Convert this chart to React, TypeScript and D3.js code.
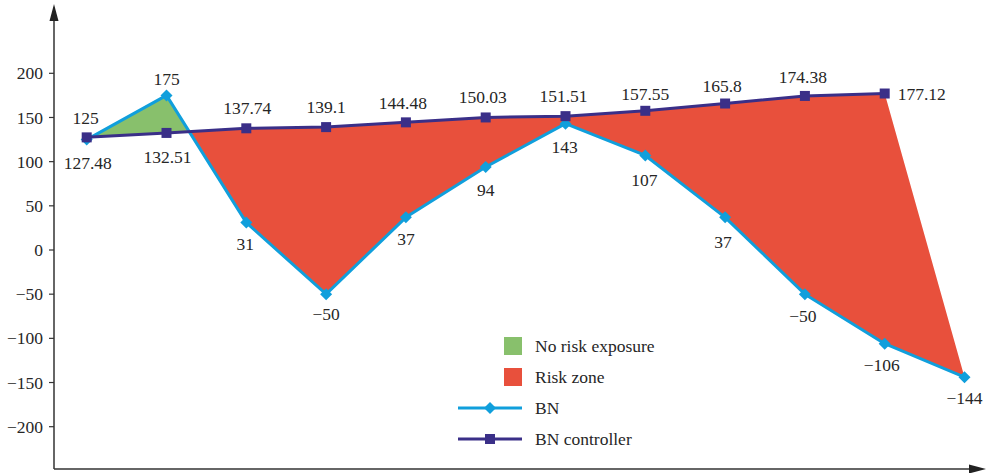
import React from "react";
import * as d3 from "d3";

const bnValues = [125, 175, 31, -50, 37, 94, 143, 107, 37, -50, -106, -144];
const controllerValues = [127.48, 132.51, 137.74, 139.1, 144.48, 150.03, 151.51, 157.55, 165.8, 174.38, 177.12];
const bnLabels = ["125", "175", "31", "−50", "37", "94", "143", "107", "37", "−50", "−106", "−144"];
const controllerLabels = ["127.48", "132.51", "137.74", "139.1", "144.48", "150.03", "151.51", "157.55", "165.8", "174.38", "177.12"];
const yTicks = [200, 150, 100, 50, 0, -50, -100, -150, -200];
const yTickLabels = ["200", "150", "100", "50", "0", "−50", "−100", "−150", "−200"];
const legendItems = ["No risk exposure", "Risk zone", "BN", "BN controller"];

// label placement (layout only)
const bnLabelPlace: [number, number][] = [
  [-1, -22], [0, -17], [-1, 21], [0, 20], [0, 22], [0, 23], [-1, 23], [-1, 24], [-2, 25], [-2, 22], [-3, 21], [0, 21],
];
const ctrlLabelPlace: [number, number, string][] = [
  [1, 26, "middle"], [1, 24, "middle"], [1, -20, "middle"], [0, -20, "middle"], [-3, -19, "middle"],
  [-3, -21, "middle"], [-2, -20, "middle"], [0, -17, "middle"], [-3, -18, "middle"], [-2, -19, "middle"], [13, 0, "start"],
];

const GREEN = "#88C06C";
const RED = "#E8503C";
const BLUE = "#109FDC";
const NAVY = "#3A2F88";
const TEXT = "#262626";
const FONT = "Liberation Serif";
const NUM_SIZE = 17.5;
const LEG_SIZE = 17.5;

export default function App() {
  const W = 987, H = 473;
  const x = d3.scaleLinear().domain([0, 11]).range([86.7, 964.5]);
  const y = d3.scaleLinear().domain([0, 200]).range([250, 73.3]);

  const bnPts: [number, number][] = bnValues.map((v, i) => [x(i), y(v)]);
  const ctPts: [number, number][] = controllerValues.map((v, i) => [x(i), y(v)]);

  // crossing between index 1 and 2
  const d1 = bnValues[1] - controllerValues[1];
  const d2 = bnValues[2] - controllerValues[2];
  const t = d1 / (d1 - d2);
  const cx = 1 + t;
  const cv = bnValues[1] + t * (bnValues[2] - bnValues[1]);
  const cross: [number, number] = [x(cx), y(cv)];

  const poly = d3.line<[number, number]>();
  const greenPoly = poly([bnPts[0], bnPts[1], cross, ctPts[1], ctPts[0]]) + "Z";
  const redPts: [number, number][] = [cross, ...ctPts.slice(2), ...bnPts.slice(2).reverse()];
  const redPoly = poly(redPts) + "Z";

  const bnLine = poly(bnPts) || "";
  const ctLine = poly(ctPts) || "";

  const axisX = 54;
  const axisY = 469;

  const diamond = (px: number, py: number, r: number) =>
    `M${px},${py - r}L${px + r},${py}L${px},${py + r}L${px - r},${py}Z`;

  const legendRowY = [346, 377, 408, 439];
  const legX = 504;

  return (
    <svg width={W} height={H} style={{ position: "absolute", left: 0, top: 0 }}>
      <style>{`.lbl { font-family: "Liberation Serif", serif !important; }`}</style>
      <rect width={W} height={H} fill="#fff" />
      {/* areas */}
      <path d={redPoly} fill={RED} />
      <path d={greenPoly} fill={GREEN} />
      {/* lines */}
      <path d={bnLine} fill="none" stroke={BLUE} strokeWidth={3} strokeLinejoin="round" />
      <path d={ctLine} fill="none" stroke={NAVY} strokeWidth={3} strokeLinejoin="round" />
      {bnPts.map(([px, py], i) => (
        <path key={"bd" + i} d={diamond(px, py, 6)} fill={BLUE} />
      ))}
      {ctPts.map(([px, py], i) => (
        <rect key={"cs" + i} x={px - 5} y={py - 5} width={10} height={10} fill={NAVY} />
      ))}
      {/* axes */}
      <line x1={axisX} y1={20} x2={axisX} y2={axisY} stroke="#333" strokeWidth={1.5} />
      <path d={`M${axisX},4L${axisX + 4.5},21L${axisX - 4.5},21Z`} fill="#222" />
      <line x1={axisX} y1={axisY} x2={970} y2={axisY} stroke="#333" strokeWidth={1.5} />
      <path d={`M986,${axisY}L969,${axisY - 4.5}L969,${axisY + 4.5}Z`} fill="#222" />
      {yTicks.map((v, i) => (
        <g key={"t" + i}>
          <line x1={axisX - 5} x2={axisX} y1={y(v)} y2={y(v)} stroke="#333" strokeWidth={1.2} />
          <text className="lbl" x={43} y={y(v)} dy="0.35em" textAnchor="end" fontSize={NUM_SIZE} fill={TEXT}
            fontFamily={FONT} style={{ fontFamily: FONT }}>
            {yTickLabels[i]}
          </text>
        </g>
      ))}
      {/* labels */}
      {bnPts.map(([px, py], i) => (
        <text className="lbl" key={"bl" + i} x={px + bnLabelPlace[i][0]} y={py + bnLabelPlace[i][1]} dy="0.35em"
          textAnchor="middle" fontSize={NUM_SIZE} fill={TEXT} fontFamily={FONT} style={{ fontFamily: FONT }}>
          {bnLabels[i]}
        </text>
      ))}
      {ctPts.map(([px, py], i) => (
        <text className="lbl" key={"cl" + i} x={px + ctrlLabelPlace[i][0]} y={py + ctrlLabelPlace[i][1]} dy="0.35em"
          textAnchor={ctrlLabelPlace[i][2] as any} fontSize={NUM_SIZE} fill={TEXT} fontFamily={FONT}
          style={{ fontFamily: FONT }}>
          {controllerLabels[i]}
        </text>
      ))}
      {/* legend */}
      <rect x={legX} y={legendRowY[0] - 9} width={18} height={18} fill={GREEN} />
      <rect x={legX} y={legendRowY[1] - 9} width={18} height={18} fill={RED} />
      <line x1={458} x2={522} y1={legendRowY[2]} y2={legendRowY[2]} stroke={BLUE} strokeWidth={3} />
      <path d={diamond(490, legendRowY[2], 6)} fill={BLUE} />
      <line x1={458} x2={522} y1={legendRowY[3]} y2={legendRowY[3]} stroke={NAVY} strokeWidth={3} />
      <rect x={485} y={legendRowY[3] - 5} width={10} height={10} fill={NAVY} />
      {legendItems.map((s, i) => (
        <text className="lbl" key={"lg" + i} x={535} y={legendRowY[i]} dy="0.35em" fontSize={LEG_SIZE} fill={TEXT}
          fontFamily={FONT} style={{ fontFamily: FONT }}>
          {s}
        </text>
      ))}
    </svg>
  );
}
